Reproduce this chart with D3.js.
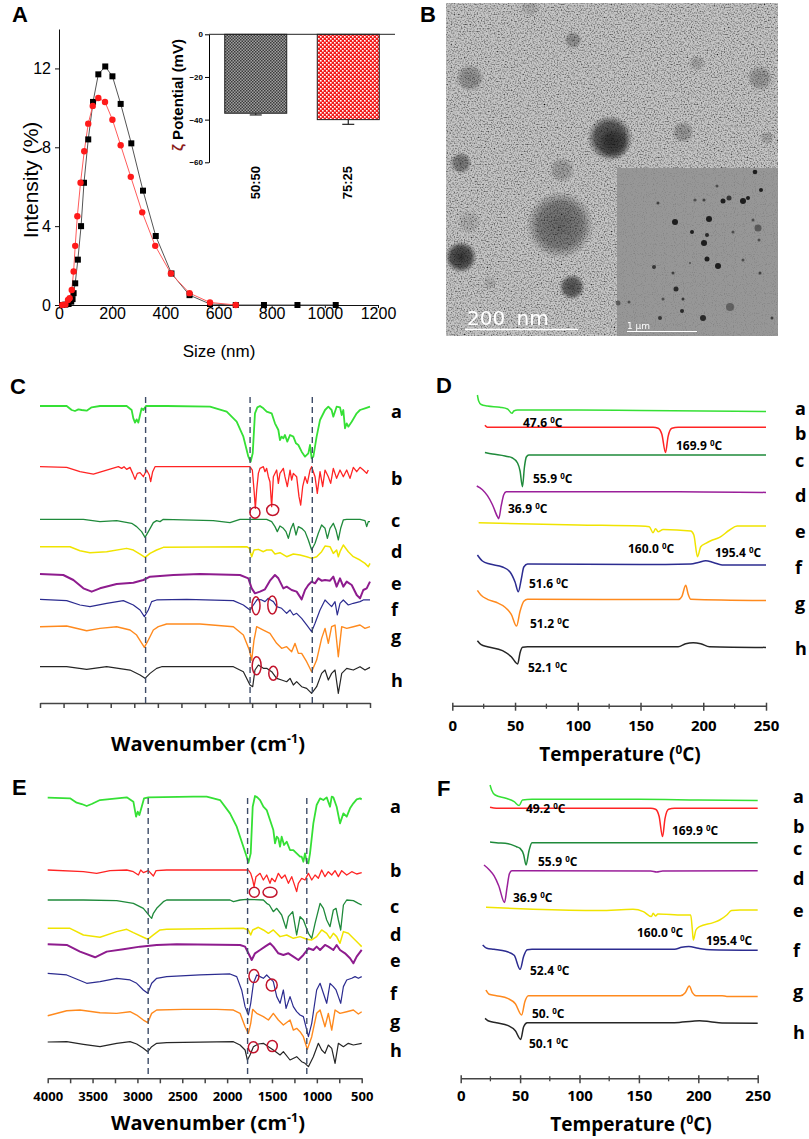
<!DOCTYPE html>
<html>
<head>
<meta charset="UTF-8">
<script src="https://cdnjs.cloudflare.com/ajax/libs/d3/7.8.5/d3.min.js"></script>
<style>
body { margin: 0; background: #fff; }
</style>
</head>
<body>
<script>

// ---------- panel A: DLS size distribution + zeta inset
var dlsSizeBlack = [12,24,36,46,51,55,61,71,83,94,110,128,148,174,201,232,272,316,364,423,491,568,665,771,897,1041];
var dlsIntBlack  = [0,0.02,0.05,0.17,0.3,0.6,1.1,2.3,4.0,6.2,8.4,10.3,11.7,12.1,11.6,10.2,8.2,5.8,3.5,1.6,0.5,0.05,0,0,0,0];
var dlsSizeRed = [12,24,34,40,48,55,61,69,81,95,110,127,148,173,201,232,270,313,362,421,491,568,665];
var dlsIntRed  = [0,0.02,0.25,0.34,0.76,1.7,3.0,4.5,6.2,7.8,9.2,10.1,10.5,10.3,9.4,8.1,6.5,4.7,3.0,1.6,0.6,0.13,0];
var zetaGroups = ["50:50", "75:25"];
var zetaMean = [-37.0, -40.0];
var zetaErr = [0.8, 2.2];

// ---------- panel B: TEM particles [x, y, r, darkness]
var temBlobs = [[560,225,34,0.55],[610,138,23,0.8],[614,144,16,0.5],[461,257,16,0.85],[461,163,11,0.5],
  [572,287,13,0.7],[470,78,14,0.35],[573,40,9,0.35],[683,132,11,0.3],[697,63,8,0.2],[760,78,13,0.3],
  [562,170,13,0.25],[767,138,7,0.2],[469,222,12,0.15],[490,283,7,0.15],[530,7,10,0.15]];
var insetDots = [[755,172,2.3,1],[717,186,1.5,0.6],[761,190,2,1],[723,201,2.5,1],[729,198,2.5,0.8],[743,201,3,1],
  [748,198,2,1],[704,200,1.5,0.7],[695,200,1.5,0.6],[658,203,1.5,0.7],[675,222,3,1],[709,219,3,1],[692,232,2,1],
  [758,228,3.5,0.5],[753,220,1.5,0.6],[707,235,2,0.9],[704,243,3,1],[733,232,1.5,0.6],[759,240,1.5,0.6],
  [707,259,2.5,1],[718,266,3,1],[654,267,2,0.8],[673,273,1.5,0.7],[760,273,1.5,0.7],[676,289,2.5,0.9],
  [683,299,1.5,0.8],[663,299,1.5,0.6],[682,311,2,0.9],[618,303,2.5,0.5],[629,302,1.5,0.6],[730,307,4,0.45],
  [703,318,3,0.9],[660,318,2,0.8],[772,318,1.5,0.7],[690,263,1,0.6],[743,260,1.5,0.6]];

// ---------- panels C / E: FTIR spectra [wavenumber, absorption depth]
var ftirGuides = [2880, 1772, 1112];
var curveLetters = ["a","b","c","d","e","f","g","h"];
var ftirC_a = [[4000,0],[3717,0],[3664,12],[3629,15],[3593,10],[3558,12],[3505,14],[3452,4],[3364,0],[3081,0],[3028,12],[3010,37],[2992,50],[2975,40],[2957,50],[2939,27],[2922,7],[2904,12],[2876,0],[2657,0],[2197,2],[2020,17],[1914,47],[1843,92],[1790,152],[1766,167],[1744,142],[1720,22],[1695,4],[1667,0],[1631,7],[1596,17],[1543,22],[1508,52],[1472,72],[1455,102],[1437,92],[1419,97],[1402,87],[1377,107],[1348,87],[1313,92],[1285,112],[1260,117],[1225,137],[1189,152],[1154,142],[1136,117],[1119,157],[1101,152],[1066,92],[1030,42],[977,12],[942,2],[907,12],[889,32],[854,2],[818,4],[800,27],[783,12],[765,67],[747,52],[730,62],[694,47],[641,22],[606,12],[553,7],[500,2]];
var ftirC_b = [[4000,0],[3717,2],[3576,15],[3434,22],[3293,10],[3169,0],[3134,5],[3109,0],[3081,8],[3045,2],[3017,20],[2992,38],[2968,20],[2939,18],[2904,30],[2869,10],[2841,25],[2826,45],[2805,15],[2780,0],[1773,0],[1748,10],[1730,70],[1716,125],[1702,70],[1684,20],[1667,5],[1631,0],[1614,15],[1596,5],[1578,30],[1561,45],[1543,120],[1525,30],[1490,10],[1472,50],[1455,20],[1419,5],[1402,30],[1377,60],[1348,10],[1331,40],[1313,20],[1278,30],[1253,90],[1235,115],[1214,60],[1189,30],[1165,50],[1136,10],[1119,0],[1083,30],[1059,80],[1030,15],[1002,60],[977,10],[942,30],[917,50],[889,5],[854,35],[818,10],[783,30],[747,10],[712,35],[677,2],[641,15],[606,2],[571,10],[535,20],[518,10]];
var ftirC_c = [[4000,0],[3540,0],[3364,7],[3187,4],[3028,12],[2975,22],[2922,37],[2886,54],[2851,37],[2798,10],[2763,4],[2727,7],[2692,0],[2162,4],[1985,10],[1879,0],[1596,0],[1543,7],[1508,22],[1483,37],[1455,20],[1419,27],[1391,37],[1366,57],[1341,30],[1313,12],[1285,47],[1260,22],[1225,27],[1189,37],[1154,62],[1119,92],[1083,72],[1048,42],[1013,17],[977,27],[952,57],[924,27],[889,12],[861,32],[836,62],[811,27],[783,2],[747,0],[606,0],[553,4],[535,22],[518,7],[500,7]];
var ftirC_d = [[4000,0],[3682,0],[3576,12],[3470,18],[3293,15],[3081,5],[3010,10],[2939,22],[2886,32],[2833,20],[2763,10],[2692,2],[1808,0],[1780,5],[1755,30],[1730,10],[1684,8],[1631,15],[1596,10],[1543,10],[1508,22],[1455,18],[1384,30],[1313,22],[1242,25],[1172,30],[1119,35],[1066,30],[1013,15],[977,-2],[924,0],[889,20],[854,10],[836,30],[818,15],[783,-5],[730,15],[677,30],[606,40],[553,50],[518,60],[500,50]];
var ftirC_e = [[4000,0],[3753,3],[3646,18],[3540,43],[3452,53],[3364,43],[3187,30],[3010,26],[2904,18],[2833,8],[2586,3],[2303,0],[1879,3],[1790,13],[1755,43],[1720,58],[1667,53],[1614,46],[1561,20],[1508,3],[1472,13],[1419,43],[1384,38],[1331,48],[1278,53],[1225,76],[1189,48],[1154,33],[1119,23],[1083,28],[1048,13],[1013,20],[977,18],[924,20],[889,8],[854,38],[818,13],[783,38],[747,23],[694,33],[641,63],[606,73],[571,48],[535,43],[500,23]];
var ftirC_f = [[4000,0],[3717,4],[3576,17],[3470,22],[3293,12],[3116,4],[3010,17],[2939,32],[2893,52],[2851,32],[2816,7],[2763,2],[2444,0],[1949,4],[1843,17],[1773,32],[1737,17],[1695,0],[1649,2],[1614,7],[1578,-3],[1554,2],[1525,7],[1490,22],[1437,27],[1384,42],[1348,32],[1313,47],[1278,42],[1225,57],[1172,77],[1119,97],[1083,72],[1030,32],[977,2],[942,12],[907,22],[871,7],[847,47],[818,12],[783,2],[730,17],[677,12],[606,7],[571,2],[500,2]];
var ftirC_g = [[4000,0],[3717,-2],[3505,12],[3364,5],[3187,0],[3045,10],[2975,25],[2893,62],[2851,40],[2798,10],[2745,0],[2657,-8],[2303,-8],[1949,0],[1843,25],[1780,70],[1755,100],[1730,40],[1702,0],[1631,10],[1561,20],[1490,50],[1437,65],[1384,60],[1331,75],[1295,50],[1260,80],[1225,80],[1172,105],[1119,135],[1066,100],[1013,35],[977,5],[942,50],[907,0],[871,-5],[836,90],[800,0],[747,5],[677,0],[606,-5],[553,5],[500,0]];
var ftirC_h = [[4000,0],[3717,0],[3505,8],[3293,0],[3045,10],[2939,25],[2886,35],[2833,20],[2763,5],[2710,0],[1949,0],[1843,15],[1773,55],[1744,60],[1720,10],[1684,-5],[1631,5],[1596,5],[1543,15],[1490,35],[1437,40],[1384,45],[1348,35],[1313,55],[1278,45],[1225,60],[1172,65],[1119,80],[1066,60],[1013,20],[977,10],[942,40],[907,20],[871,10],[836,80],[800,20],[747,5],[677,10],[606,0],[553,10],[500,2]];

var ftirE_a = [[4000,0],[3751,2],[3677,15],[3621,19],[3565,25],[3510,19],[3417,7],[3119,-1],[3045,12],[3015,57],[2997,42],[2978,52],[2952,27],[2926,2],[2878,-1],[2376,-3],[2228,-3],[2079,7],[1968,47],[1893,87],[1819,147],[1782,177],[1763,195],[1737,167],[1715,27],[1689,-5],[1663,-1],[1633,7],[1596,27],[1559,37],[1522,67],[1485,97],[1466,137],[1447,117],[1429,122],[1410,147],[1392,117],[1366,142],[1336,132],[1299,157],[1262,157],[1225,167],[1187,177],[1169,177],[1150,192],[1132,167],[1113,192],[1094,197],[1076,167],[1039,77],[1002,22],[964,2],[927,7],[890,-1],[853,27],[834,-3],[816,-1],[779,27],[742,77],[704,47],[667,57],[630,32],[593,17],[556,5],[518,2],[500,5]];
var ftirE_b = [[4000,0],[3602,5],[3454,10],[3305,2],[3119,0],[3045,5],[2989,15],[2963,0],[2934,8],[2878,2],[2822,18],[2792,2],[2674,0],[1819,0],[1763,0],[1737,10],[1715,30],[1700,50],[1678,20],[1633,10],[1596,30],[1559,15],[1522,40],[1503,25],[1466,35],[1429,10],[1392,25],[1355,15],[1317,40],[1280,20],[1243,50],[1225,65],[1206,40],[1169,25],[1132,30],[1094,10],[1057,30],[1020,15],[983,25],[946,0],[909,20],[872,5],[834,15],[797,2],[760,20],[723,2],[667,15],[611,5],[556,12],[500,8]];
var ftirE_c = [[4000,0],[3602,0],[3231,2],[3045,10],[2934,25],[2859,50],[2841,55],[2822,40],[2785,25],[2748,15],[2711,5],[2674,0],[1968,0],[1930,5],[1856,0],[1782,-2],[1596,0],[1559,10],[1529,15],[1485,35],[1447,25],[1392,45],[1343,85],[1317,50],[1269,35],[1225,105],[1187,50],[1150,60],[1094,100],[1057,115],[1020,70],[964,10],[927,25],[890,60],[853,80],[816,30],[786,25],[760,60],[734,90],[704,15],[667,0],[593,2],[537,10],[500,15]];
var ftirE_d = [[4000,0],[3751,0],[3602,20],[3417,27],[3231,10],[3119,3],[3045,13],[2934,27],[2885,33],[2822,20],[2748,5],[2674,3],[1819,0],[1763,5],[1737,20],[1715,5],[1652,-3],[1596,5],[1540,15],[1485,5],[1410,25],[1336,20],[1262,30],[1187,25],[1113,33],[1057,35],[1002,25],[946,5],[890,15],[853,30],[816,15],[779,25],[742,45],[704,10],[649,15],[593,30],[537,45],[500,55]];
var ftirE_e = [[4000,0],[3788,2],[3640,22],[3472,39],[3342,22],[3157,15],[2971,7],[2785,2],[2562,0],[1856,2],[1800,7],[1763,27],[1726,47],[1689,27],[1633,17],[1578,7],[1522,-3],[1485,7],[1429,27],[1373,32],[1317,27],[1262,37],[1206,47],[1150,32],[1094,12],[1039,17],[1002,7],[964,17],[909,2],[872,7],[816,17],[779,2],[742,17],[686,27],[630,42],[593,57],[556,37],[500,17]];
var ftirE_f = [[4000,0],[3788,5],[3565,30],[3417,25],[3231,15],[3082,20],[3008,30],[2934,50],[2885,60],[2841,30],[2785,15],[2674,10],[2302,5],[1968,2],[1893,10],[1838,50],[1800,100],[1763,125],[1737,90],[1707,30],[1670,5],[1633,10],[1596,15],[1559,5],[1522,15],[1485,25],[1447,70],[1410,90],[1373,50],[1343,105],[1299,70],[1262,100],[1225,115],[1187,125],[1150,130],[1113,170],[1094,190],[1057,150],[1002,50],[964,30],[927,60],[890,90],[853,30],[816,40],[786,50],[760,70],[734,90],[704,40],[667,20],[611,15],[574,10],[537,15],[500,10]];
var ftirE_g = [[4000,0],[3788,-15],[3640,-17],[3417,-9],[3231,-7],[3082,-12],[3008,-2],[2934,13],[2885,21],[2841,-7],[2785,-17],[2488,-19],[2116,-19],[1930,-17],[1856,-7],[1800,33],[1763,53],[1737,23],[1715,-19],[1670,-7],[1596,3],[1540,13],[1485,-7],[1429,13],[1373,28],[1299,13],[1262,43],[1225,38],[1187,48],[1150,63],[1106,101],[1057,63],[1002,-7],[964,-17],[909,33],[872,-7],[834,43],[797,-17],[742,-7],[667,-12],[593,-17],[537,-5],[500,-12]];
var ftirE_h = [[4000,0],[3788,-1],[3602,7],[3417,14],[3231,4],[3082,-1],[3008,6],[2934,19],[2885,29],[2841,14],[2785,4],[2674,2],[1930,-1],[1856,9],[1800,24],[1774,54],[1745,39],[1707,14],[1652,6],[1596,4],[1540,14],[1485,24],[1410,39],[1373,29],[1299,54],[1225,44],[1169,59],[1132,64],[1094,74],[1039,44],[983,4],[946,24],[909,34],[872,9],[834,19],[797,64],[760,4],[704,14],[649,4],[593,9],[500,4]];
// circled bands [curve index, wavenumber]
var ftirMarksC = [[1,1720],[1,1532],[5,1709],[5,1536],[7,1702],[7,1526]];
var ftirMarksE = [[1,1697],[1,1522],[5,1701],[5,1503],[7,1708],[7,1497]];

// ---------- panels D / F: DSC thermograms [temperature C, heat flow depth]
var dscD_a = [[20,-15],[21,-9],[23,-5.5],[28,-4],[38,-2.7],[44,-1],[47.6,3.3],[49,1],[52,0],[100,0],[150,0.5],[200,1],[250,1.5]];
var dscD_b = [[26,-2],[28,0],[160,0],[164,1],[167,7],[169.9,25.3],[172,9],[175,1],[180,0],[250,0]];
var dscD_c = [[26,-2.5],[32,-1],[42,1],[48,3],[52,8],[54,16],[55.9,31.7],[57.5,12],[59,2],[61,0],[250,0]];
var dscD_d = [[19.5,-5.7],[24,-2],[28,4],[32,13],[36,25],[37,27],[39,14],[41,3],[43,0],[150,0],[200,0.3],[250,0.7]];
var dscD_e = [[21,0],[100,2.3],[150,3.3],[157,4],[160,10],[162,6],[164,9],[168,6.7],[190,8.3],[192.5,12.3],[195.4,34],[198,24],[202,20.7],[206,18],[213,14.7],[221,7.3],[227,3.3],[250,3.3]];
var dscD_f = [[20,-9],[24,-3],[30,0],[40,3],[46,8],[50,18],[52.6,27.7],[55,15],[57,3],[60,0],[150,0.5],[190,0],[196,-1.5],[202,-3.3],[208,-1.5],[215,1],[250,1]];
var dscD_g = [[20,-9],[23,-4],[28,0],[35,3],[42,8],[47,15],[51.2,26.7],[54,12],[57,2],[60,0],[180,0.3],[183,-3],[186,-14],[188,-5],[190,0],[250,1.3]];
var dscD_h = [[20,-6],[23,-2],[28,0],[40,4],[47,10],[52.1,17.3],[54,6],[56,0.5],[60,0],[180,0],[186,-3],[192,-4],[198,-3],[205,0],[250,0.7]];
var dscF_a = [[24.7,-14.3],[26,-9.3],[29,-4.3],[38,-1],[45,2.3],[49.2,6.3],[52,0.7],[60,0],[150,0],[200,0.7],[250,1.3]];
var dscF_b = [[24.7,-1],[30,0],[160,0],[164,1],[167,8],[169.9,28.3],[172,10],[175,1],[180,0],[250,0]];
var dscF_c = [[24.7,-0.7],[30,0],[40,1],[47,4],[50,5.7],[53,12],[55,22.3],[57.5,8],[60,0],[250,0]];
var dscF_d = [[19.6,-5.7],[24,-1],[28,5],[32,15],[36.9,31.7],[39,17],[41,3],[43,0],[160,0.3],[165,1.3],[170,0.3],[250,0]];
var dscF_e = [[21.3,0],[61,2],[117,3.3],[145,2],[153.7,4.3],[160.5,9.3],[162,6],[164,8.7],[166,6.7],[187,7.7],[193.6,7.7],[195,22.7],[195.8,32.7],[198,22.7],[201,19.3],[212.6,15.3],[218,12.7],[224,7.7],[228,3.3],[235,2.7],[250,2.7]];
var dscF_f = [[18.5,-4.3],[22,-1],[28,0],[38,2],[45,6],[50,20],[53,7],[56,0.5],[60,0],[180,0],[186,-2],[192,-2.7],[200,-1],[210,0.5],[250,1]];
var dscF_g = [[21.3,-5.7],[24,-1.5],[30,0],[40,3],[46,8],[51.3,19.3],[54,6],[57,0],[185,0],[189,-3],[192.4,-9.7],[195,-3],[198,0],[220,0],[224,0.7],[250,0.7]];
var dscF_h = [[20.5,-4.3],[23,-2],[30,0],[40,3],[46,8],[50.5,16.7],[53,4],[56,0],[180,0],[195,-1.5],[201,-2],[210,-1],[220,0.3],[250,0.5]];
var dscPeaksD = ["47.6","169.9","55.9","36.9","160.0","195.4","51.6","51.2","52.1"];
var dscPeaksF = ["49.2","169.9","55.9","36.9","160.0","195.4","52.4","50.","50.1"];

// ---------- styles / layout
var ftirColors = ["#35e035", "#ff2424", "#1f8a3b", "#f0e400", "#8e1c8e", "#2c2c90", "#ff8a1e", "#262626"];
var dscColors  = ["#35e035", "#ff2424", "#1f8a3b", "#9a1f9a", "#f0e400", "#2c2c90", "#ff8a1e", "#262626"];
var ftirWidths = [1.8, 1.3, 1.3, 1.5, 2, 1.2, 1.4, 1.2];
var boldFont = "'Open Sans', 'DejaVu Sans', sans-serif";
var arialFont = "'Liberation Sans', Arial, sans-serif";

var svg = d3.select("body").append("svg").attr("width", 809).attr("height", 1139)
    .style("background", "#fff");
var defs = svg.append("defs");

// bar fill patterns
var pG = defs.append("pattern").attr("id", "chkGray").attr("patternUnits", "userSpaceOnUse").attr("width", 3).attr("height", 3);
pG.append("rect").attr("width", 3).attr("height", 3).attr("fill", "#a0a0a0");
pG.append("rect").attr("width", 1.5).attr("height", 1.5).attr("fill", "#3c3c3c");
pG.append("rect").attr("x", 1.5).attr("y", 1.5).attr("width", 1.5).attr("height", 1.5).attr("fill", "#3c3c3c");
var pR = defs.append("pattern").attr("id", "chkRed").attr("patternUnits", "userSpaceOnUse").attr("width", 4).attr("height", 4);
pR.append("rect").attr("width", 4).attr("height", 4).attr("fill", "#f21c1c");
pR.append("rect").attr("width", 1.6).attr("height", 1.6).attr("fill", "#fff");
pR.append("rect").attr("x", 2).attr("y", 2).attr("width", 1.6).attr("height", 1.6).attr("fill", "#fff");

// TEM grain
function grainFilter(id, freq, octaves, gain, bias, seed) {
  var f = defs.append("filter").attr("id", id).attr("x", 0).attr("y", 0).attr("width", 1).attr("height", 1);
  f.append("feTurbulence").attr("type", "fractalNoise").attr("baseFrequency", freq)
    .attr("numOctaves", octaves).attr("seed", seed).attr("result", "n");
  f.append("feColorMatrix").attr("in", "n").attr("type", "matrix")
    .attr("values", gain + " 0 0 0 " + bias + "  " + gain + " 0 0 0 " + bias + "  " + gain + " 0 0 0 " + bias + "  0 0 0 0 1");
}
grainFilter("grain", 0.7, 1, 2.4, -0.38, 7);
grainFilter("grainFine", 0.9, 1, 1.0, 0.52, 3);
var blob = defs.append("radialGradient").attr("id", "blob");
blob.append("stop").attr("offset", "0%").attr("stop-color", "#1a1a1a").attr("stop-opacity", 1);
blob.append("stop").attr("offset", "65%").attr("stop-color", "#2a2a2a").attr("stop-opacity", 0.85);
blob.append("stop").attr("offset", "100%").attr("stop-color", "#3a3a3a").attr("stop-opacity", 0);
defs.append("clipPath").attr("id", "temClip").append("rect")
    .attr("x", 446).attr("y", 3).attr("width", 332).attr("height", 333);

function panelLetter(t, x, y) {
  svg.append("text").attr("x", x).attr("y", y).text(t)
    .attr("font-family", arialFont).attr("font-weight", "bold").attr("font-size", 22);
}

// ================= A
var xA = d3.scaleLinear().domain([0, 1200]).range([59, 378]);
var yA = d3.scaleLinear().domain([0, 14]).range([305, 29]);
var gA = svg.append("g");
gA.append("g").attr("transform", "translate(0,305)")
  .call(d3.axisBottom(xA).tickValues(d3.range(0, 1201, 200)).tickFormat(d3.format("d"))
    .tickSize(3).tickSizeOuter(0).tickPadding(0))
  .attr("font-size", 16).attr("font-family", arialFont);
gA.append("g").attr("transform", "translate(59,0)")
  .call(d3.axisLeft(yA).tickValues([0, 4, 8, 12]).tickSize(4).tickSizeOuter(0).tickPadding(4))
  .attr("font-size", 16).attr("font-family", arialFont);
gA.selectAll(".domain, .tick line").attr("stroke", "#111");

var blackPts = dlsSizeBlack.map(function(s, i) { return [s, dlsIntBlack[i]]; });
var redPts = dlsSizeRed.map(function(s, i) { return [s, dlsIntRed[i]]; });
var lineA = d3.line().x(function(d) { return xA(d[0]); }).y(function(d) { return yA(d[1]); });
gA.append("path").attr("d", lineA(blackPts)).attr("fill", "none").attr("stroke", "#555").attr("stroke-width", 1);
gA.append("path").attr("d", lineA(redPts)).attr("fill", "none").attr("stroke", "#ff5c5c").attr("stroke-width", 1);
gA.selectAll(".sq").data(blackPts).enter().append("rect")
  .attr("x", function(d) { return xA(d[0]) - 3; }).attr("y", function(d) { return yA(d[1]) - 3; })
  .attr("width", 6).attr("height", 6).attr("fill", "#000");
gA.selectAll(".ci").data(redPts).enter().append("circle")
  .attr("cx", function(d) { return xA(d[0]); }).attr("cy", function(d) { return yA(d[1]); })
  .attr("r", 3.2).attr("fill", "#ff1a1a");
gA.append("text").attr("transform", "translate(38,180) rotate(-90)").attr("text-anchor", "middle")
  .attr("font-family", arialFont).attr("font-size", 21).text("Intensity (%)");
gA.append("text").attr("x", 219).attr("y", 357).attr("text-anchor", "middle")
  .attr("font-family", arialFont).attr("font-size", 17).text("Size (nm)");

// zeta inset
var xZ = d3.scaleBand().domain(zetaGroups).range([209, 395]).paddingInner(0.33).paddingOuter(0.17);
var yZ = d3.scaleLinear().domain([-60, 0]).range([162.3, 34.3]);
var gZ = svg.append("g");
gZ.selectAll(".bar").data(zetaGroups).enter().append("rect")
  .attr("x", function(d) { return xZ(d); }).attr("width", xZ.bandwidth())
  .attr("y", yZ(0)).attr("height", function(d, i) { return yZ(zetaMean[i]) - yZ(0); })
  .attr("fill", function(d, i) { return i === 0 ? "url(#chkGray)" : "url(#chkRed)"; })
  .attr("stroke", "#222").attr("stroke-width", 1);
zetaGroups.forEach(function(d, i) {
  var cx = xZ(d) + xZ.bandwidth() / 2;
  gZ.append("line").attr("x1", cx).attr("x2", cx).attr("y1", yZ(zetaMean[i])).attr("y2", yZ(zetaMean[i] - zetaErr[i]))
    .attr("stroke", "#222").attr("stroke-width", 1.2);
  gZ.append("line").attr("x1", cx - 6).attr("x2", cx + 6).attr("y1", yZ(zetaMean[i] - zetaErr[i])).attr("y2", yZ(zetaMean[i] - zetaErr[i]))
    .attr("stroke", "#222").attr("stroke-width", 1.2);
  gZ.append("text").attr("transform", "translate(" + (cx + 4) + ",166) rotate(-90)")
    .attr("text-anchor", "end").attr("font-family", arialFont).attr("font-weight", "bold")
    .attr("font-size", 13).text(d);
});
gZ.append("line").attr("x1", 209).attr("x2", 395).attr("y1", yZ(0)).attr("y2", yZ(0)).attr("stroke", "#222");
gZ.append("g").attr("transform", "translate(209,0)")
  .call(d3.axisLeft(yZ).tickValues([0, -20, -40, -60]).tickSize(4).tickSizeOuter(0).tickPadding(2))
  .attr("font-size", 8).attr("font-weight", "bold").attr("font-family", arialFont);
var zl = gZ.append("text").attr("transform", "translate(183,95) rotate(-90)").attr("text-anchor", "middle")
  .attr("font-family", arialFont).attr("font-weight", "bold").attr("font-size", 15);
zl.append("tspan").attr("fill", "#8b1c1c").text("\u03b6");
zl.append("tspan").text(" Potential (mV)");
panelLetter("A", 12, 22);

// ================= B
var gB = svg.append("g").attr("clip-path", "url(#temClip)");
gB.append("rect").attr("x", 446).attr("y", 3).attr("width", 332).attr("height", 333).attr("fill", "#c6c6c6");
gB.selectAll(".blob").data(temBlobs).enter().append("circle")
  .attr("cx", function(d) { return d[0]; }).attr("cy", function(d) { return d[1]; })
  .attr("r", function(d) { return d[2]; }).attr("fill", "url(#blob)")
  .attr("fill-opacity", function(d) { return d[3]; });
gB.append("rect").attr("x", 446).attr("y", 3).attr("width", 332).attr("height", 333)
  .attr("filter", "url(#grain)").style("mix-blend-mode", "multiply");
gB.append("rect").attr("x", 617).attr("y", 168).attr("width", 161).attr("height", 168).attr("fill", "#979797");
gB.selectAll(".dot").data(insetDots).enter().append("circle")
  .attr("cx", function(d) { return d[0]; }).attr("cy", function(d) { return d[1]; })
  .attr("r", function(d) { return d[2]; }).attr("fill", "#1e1e1e")
  .attr("fill-opacity", function(d) { return d[3]; });
gB.append("rect").attr("x", 617).attr("y", 168).attr("width", 161).attr("height", 168)
  .attr("filter", "url(#grainFine)").style("mix-blend-mode", "multiply");
gB.append("text").attr("x", 467).attr("y", 325).attr("fill", "#fff").attr("font-family", "'DejaVu Sans', sans-serif")
  .attr("font-size", 20).attr("word-spacing", 5).text("200 nm");
gB.append("line").attr("x1", 465).attr("x2", 578).attr("y1", 329.5).attr("y2", 329.5).attr("stroke", "#fff").attr("stroke-width", 1.6);
gB.append("text").attr("x", 627).attr("y", 329).attr("fill", "#fff").attr("font-family", "'DejaVu Sans', sans-serif")
  .attr("font-size", 9).text("1 \u03bcm");
gB.append("line").attr("x1", 627).attr("x2", 697).attr("y1", 331.5).attr("y2", 331.5).attr("stroke", "#fff").attr("stroke-width", 1);
panelLetter("B", 420, 22);

// ================= C / E FTIR
var yT = d3.scaleLinear().domain([0, 300]).range([0, 100]);

function supTitle(g, x, y, size, pre, sup, post) {
  var t = g.append("text").attr("x", x).attr("y", y).attr("text-anchor", "middle")
    .attr("font-family", boldFont).attr("font-weight", "bold").attr("font-size", size);
  t.append("tspan").text(pre);
  t.append("tspan").attr("dy", -size * 0.38).attr("font-size", size * 0.62).text(sup);
  t.append("tspan").attr("dy", size * 0.38).text(post);
}

function drawFtir(cfg) {
  var x = d3.scaleLinear().domain([4000, 500]).range([cfg.x0, cfg.x1]);
  var g = svg.append("g");
  cfg.curves.forEach(function(c, i) {
    var line = d3.line().x(function(d) { return x(d[0]); })
      .y(function(d) { return cfg.offsets[i] + yT(d[1]); });
    g.append("path").attr("d", line(c)).attr("fill", "none")
      .attr("stroke", ftirColors[i]).attr("stroke-width", ftirWidths[i]).attr("stroke-linejoin", "round");
  });
  ftirGuides.forEach(function(wn) {
    g.append("line").attr("x1", x(wn)).attr("x2", x(wn)).attr("y1", cfg.guideTop).attr("y2", cfg.axisY)
      .attr("stroke", "#3e4c68").attr("stroke-width", 1.4).attr("stroke-dasharray", "6,4");
  });
  cfg.marks.forEach(function(m, k) {
    g.append("ellipse").attr("cx", x(m[1])).attr("cy", cfg.markY[k])
      .attr("rx", cfg.markR[k][0]).attr("ry", cfg.markR[k][1])
      .attr("fill", "none").attr("stroke", "#c2142c").attr("stroke-width", 1.5);
  });
  var ax = g.append("g").attr("transform", "translate(0," + cfg.axisY + ")")
    .call(d3.axisBottom(x).tickValues(d3.range(4000, 499, -250)).tickSize(5).tickSizeOuter(0).tickPadding(cfg.pad)
      .tickFormat(function(d) { return cfg.labels && d % 500 === 0 ? d : ""; }))
    .attr("font-size", 13).attr("font-family", boldFont).attr("font-weight", "bold");
  ax.selectAll(".domain, .tick line").attr("stroke", "#444").attr("stroke-width", 1.5);
  curveLetters.forEach(function(l, i) {
    g.append("text").attr("x", cfg.letterX).attr("y", cfg.letterY[i]).text(l)
      .attr("font-family", boldFont).attr("font-weight", "bold").attr("font-size", 18);
  });
  supTitle(g, 208, cfg.titleY, 20, "Wavenumber (cm", "-1", ")");
}

drawFtir({
  x0: 40, x1: 370, axisY: 703, guideTop: 397, titleY: 751, labels: false, pad: 8,
  curves: [ftirC_a, ftirC_b, ftirC_c, ftirC_d, ftirC_e, ftirC_f, ftirC_g, ftirC_h],
  offsets: [406, 466.7, 519.3, 546.7, 574, 599.3, 626.7, 666.7],
  marks: ftirMarksC, markY: [512.7, 510, 605.7, 605, 665.7, 673.3],
  markR: [[5, 5.5], [6, 5.5], [4, 9], [4.5, 9], [4.5, 9], [4.5, 7]],
  letterX: 391, letterY: [418, 485, 527, 558, 590, 616, 643, 687]
});
panelLetter("C", 10, 394);
drawFtir({
  x0: 47.7, x1: 361.7, axisY: 1078.3, guideTop: 798, titleY: 1130, labels: true, pad: 8,
  curves: [ftirE_a, ftirE_b, ftirE_c, ftirE_d, ftirE_e, ftirE_f, ftirE_g, ftirE_h],
  offsets: [797.7, 870, 900, 928.3, 944.3, 973.3, 1015.7, 1042],
  marks: ftirMarksE, markY: [892.3, 892.3, 976, 985, 1047.3, 1046],
  markR: [[5, 5], [7, 5], [5, 6.5], [5.5, 6], [5, 5.5], [5, 5.5]],
  letterX: 390, letterY: [813, 877, 913, 941, 967, 1000, 1028, 1057]
});
panelLetter("E", 12, 795);

// ================= D / F DSC
var yH = d3.scaleLinear().domain([0, 100]).range([0, 100]);

function drawDsc(cfg) {
  var x = d3.scaleLinear().domain([0, 250]).range([cfg.x0, cfg.x1]);
  var g = svg.append("g");
  cfg.curves.forEach(function(c, i) {
    var line = d3.line().curve(d3.curveMonotoneX).x(function(d) { return x(d[0]); })
      .y(function(d) { return cfg.offsets[i] + yH(d[1]); });
    g.append("path").attr("d", line(c)).attr("fill", "none")
      .attr("stroke", dscColors[i]).attr("stroke-width", 1.5);
  });
  cfg.peaks.forEach(function(p, k) {
    var t = g.append("text").attr("x", cfg.peakPos[k][0]).attr("y", cfg.peakPos[k][1])
      .attr("font-family", boldFont).attr("font-weight", "bold").attr("font-size", 12);
    t.append("tspan").text(p + " ");
    t.append("tspan").attr("dy", -4.5).attr("font-size", 8).text("0");
    t.append("tspan").attr("dy", 4.5).text("C");
  });
  var ax = g.append("g").attr("transform", "translate(0," + cfg.axisY + ")")
    .call(d3.axisBottom(x).tickValues(d3.range(0, 251, 50)).tickSize(6).tickSizeOuter(0).tickPadding(cfg.pad))
    .attr("font-size", 15).attr("font-family", boldFont).attr("font-weight", "bold");
  ax.selectAll(".tick line").attr("y1", -3).attr("y2", 5);
  ax.selectAll(".domain, .tick line").attr("stroke", "#444").attr("stroke-width", 1.5);
  d3.range(25, 250, 50).forEach(function(t) {
    ax.append("line").attr("x1", x(t)).attr("x2", x(t)).attr("y1", -2).attr("y2", 3)
      .attr("stroke", "#444").attr("stroke-width", 1.3);
  });
  curveLetters.forEach(function(l, i) {
    g.append("text").attr("x", cfg.letterX).attr("y", cfg.letterY[i]).text(l)
      .attr("font-family", boldFont).attr("font-weight", "bold").attr("font-size", 18);
  });
  supTitle(g, cfg.titleX, cfg.titleY, 19, "Temperature (", "0", "C)");
}

drawDsc({
  x0: 452.3, x1: 766, axisY: 705.7, pad: 9, titleX: 620, titleY: 761,
  curves: [dscD_a, dscD_b, dscD_c, dscD_d, dscD_e, dscD_f, dscD_g, dscD_h],
  offsets: [410, 427.3, 455, 491.7, 522.7, 564, 599.3, 646.7],
  peaks: dscPeaksD,
  peakPos: [[523, 427], [676, 450], [533, 483], [508, 513], [628, 553], [715, 557], [529, 588], [530, 628], [528, 672]],
  letterX: 795, letterY: [415, 440, 467, 502, 538, 574, 610, 655]
});
panelLetter("D", 436, 393);
drawDsc({
  x0: 460.7, x1: 757.7, axisY: 1078.3, pad: 6.5, titleX: 631, titleY: 1131,
  curves: [dscF_a, dscF_b, dscF_c, dscF_d, dscF_e, dscF_f, dscF_g, dscF_h],
  offsets: [799.3, 808.3, 842.7, 870.7, 907.3, 949.3, 995.7, 1022.7],
  peaks: dscPeaksF,
  peakPos: [[526, 813], [672, 835], [538, 866], [513, 902], [637, 937], [706, 945], [530, 975], [532, 1018], [529, 1048]],
  letterX: 793, letterY: [803, 833, 855, 885, 917, 957, 998, 1039]
});
panelLetter("F", 437, 796);

</script>
</body>
</html>
